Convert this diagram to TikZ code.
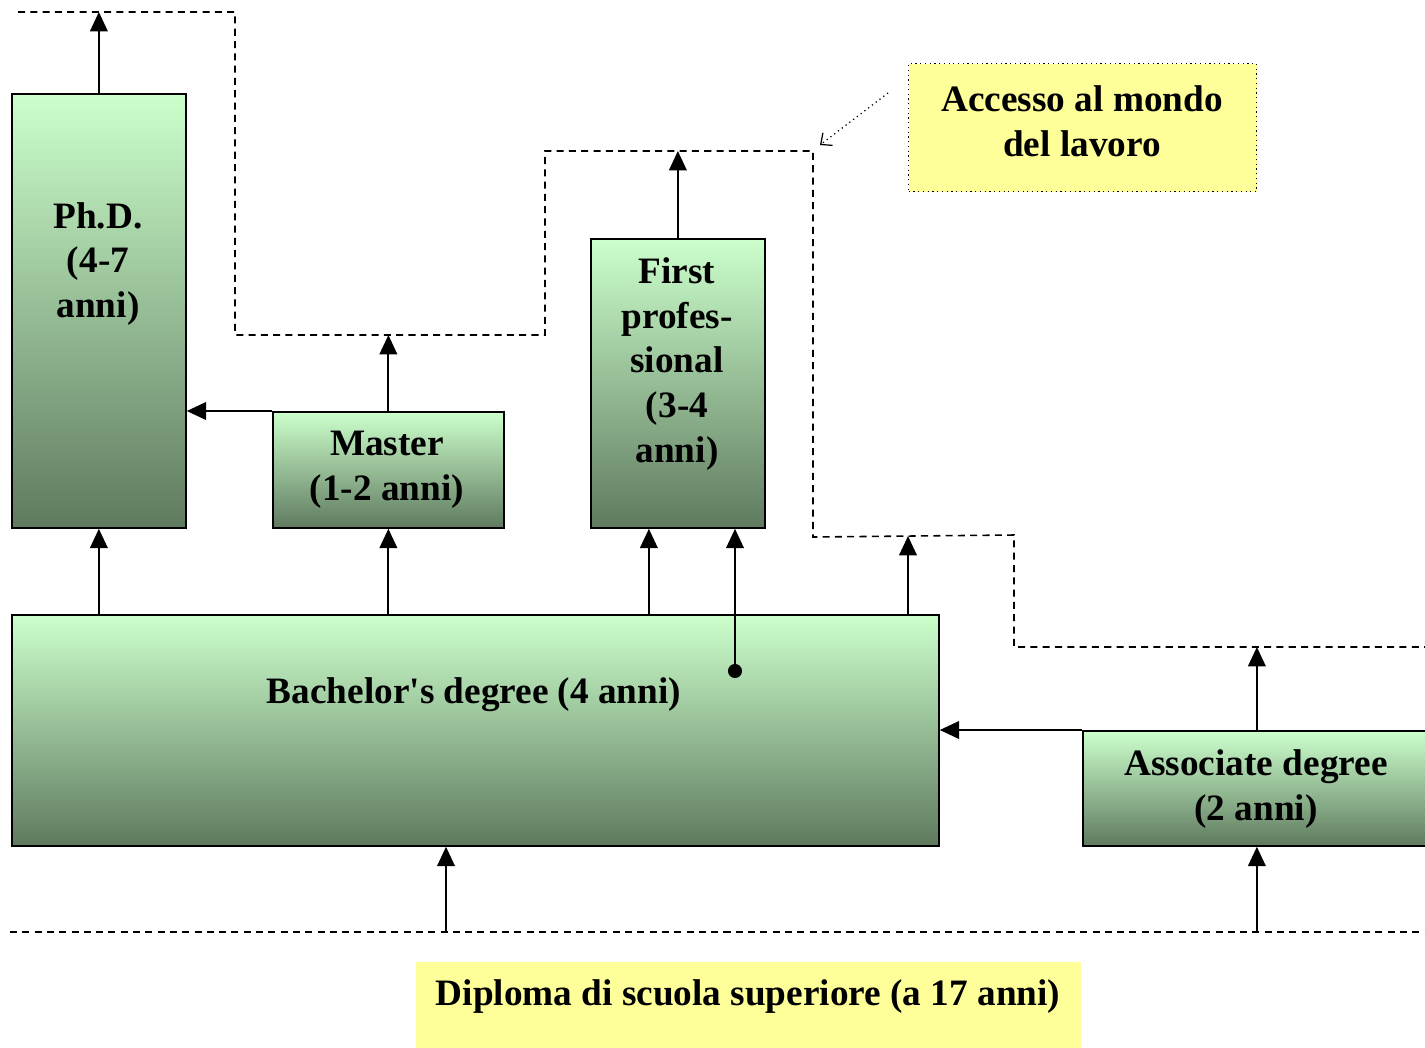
\documentclass[tikz,border=0pt]{standalone}
\usepackage{fontspec}
\setmainfont{Liberation Serif}
\usetikzlibrary{arrows.meta, positioning, calc}

\definecolor{boxtop}{HTML}{CCFFCC}
\definecolor{boxbot}{HTML}{5F7A5F}
\definecolor{notey}{HTML}{FFFF99}

\tikzset{
  box/.style={draw, line width=1pt, top color=boxtop, bottom color=boxbot,
    anchor=north west, inner sep=0pt},
  note/.style={fill=notey, anchor=north west, inner sep=0pt},
  lbl/.style={font=\bfseries\fontsize{21.2}{25.5}\selectfont, align=center},
  up/.style={-{Triangle[length=11pt,width=10pt]}, line width=1.1pt},
  limit/.style={dash pattern=on 4pt off 3pt, line width=0.9pt},
}

\begin{document}
\begin{tikzpicture}[x=0.2mm, y=-0.2mm]
    \clip (0,0) rectangle (1425,1047);

    % boxes
    \node[box, minimum width={174*0.2mm}, minimum height={434*0.2mm}] (phd) at (11,93) {};
    \node[box, minimum width={231*0.2mm}, minimum height={116*0.2mm}] (master) at (272,411) {};
    \node[box, minimum width={174*0.2mm}, minimum height={289*0.2mm}] (firstp) at (590,238) {};
    \node[box, minimum width={927*0.2mm}, minimum height={231*0.2mm}] (bach) at (11,614) {};
    \node[box, minimum width={348*0.2mm}, minimum height={115*0.2mm}] (assoc) at (1082,730) {};
    \node[note, draw, dotted, line width=0.7pt, minimum width={348*0.2mm}, minimum height={128*0.2mm}] (accesso) at (908,63) {};
    \node[note, minimum width={665*0.2mm}, minimum height={100*0.2mm}] (diploma) at (416,962) {};

    % labels
    \node[lbl] (phdlbl) at (98,264) {Ph.D.\\(4-7\\anni)};
    \node[lbl] (masterlbl) at (387,470) {Master\\(1-2 anni)};
    \node[lbl] (firstplbl) at (677,364) {First\\profes-\\sional\\(3-4\\anni)};
    \node[lbl] (bachlbl) at (474,695) {Bachelor\textquotesingle s degree (4 anni)};
    \node[lbl] (assoclbl) at (1256,789) {Associate degree\\(2 anni)};
    \node[lbl] (accessolbl) at (1082,121) {Accesso al mondo\\del lavoro};
    \node[lbl] (diplomalbl) at (748,997) {Diploma di scuola superiore (a 17 anni)};

    % work access limits
    \coordinate (l1) at (18,12);
    \coordinate (l2) at (235,12);
    \coordinate (l3) at (235,335);
    \coordinate (l4) at (545,335);
    \coordinate (l5) at (545,151);
    \coordinate (l6) at (813,151);
    \coordinate (l7) at (813,537);
    \coordinate (l8) at (1014,535);
    \coordinate (l9) at (1014,647);
    \coordinate (l10) at (1430,647);
    \draw[limit] (l1) -- (l2) -- (l3) -- (l4) -- (l5) -- (l6) -- (l7) -- (l8) -- (l9) -- (l10);

    \coordinate (s1) at (10,932);
    \coordinate (s2) at (1430,932);
    \draw[limit] (s1) -- (s2);

    % arrows
    \draw[up] (phd.north) -- (phd.north |- l1);
    \draw[up] (master.north) -- (master.north |- l3);
    \draw[up] (firstp.north) -- (firstp.north |- l5);
    \draw[up] (master.north west) -- (phd.east |- master.north west);

    \draw[up] (bach.north -| phd.south) -- (phd.south);
    \draw[up] (bach.north -| master.south) -- (master.south);
    \coordinate (fp1) at ($(firstp.south)+(-29,0)$);
    \draw[up] (bach.north -| fp1) -- (fp1);
    \coordinate (dot) at (735,671);
    \fill (dot) circle (4pt);
    \draw[up] (dot) -- (dot |- firstp.south);
    \coordinate (w3) at (908,536);
    \draw[up] (bach.north -| w3) -- (w3);

    \draw[up] (assoc.north) -- (assoc.north |- l9);
    \draw[up] (assoc.north west) -- (bach.east |- assoc.north west);

    \coordinate (b1) at (446,932);
    \draw[up] (b1) -- (b1 |- bach.south);
    \draw[up] (assoc.south |- s1) -- (assoc.south);

    \coordinate (pa) at (888,93);
    \coordinate (pb) at (820,145);
    \draw[dotted, line width=0.7pt, -{Straight Barb[length=5pt,width=9pt]}] (pa) -- (pb);
\end{tikzpicture}
\end{document}
